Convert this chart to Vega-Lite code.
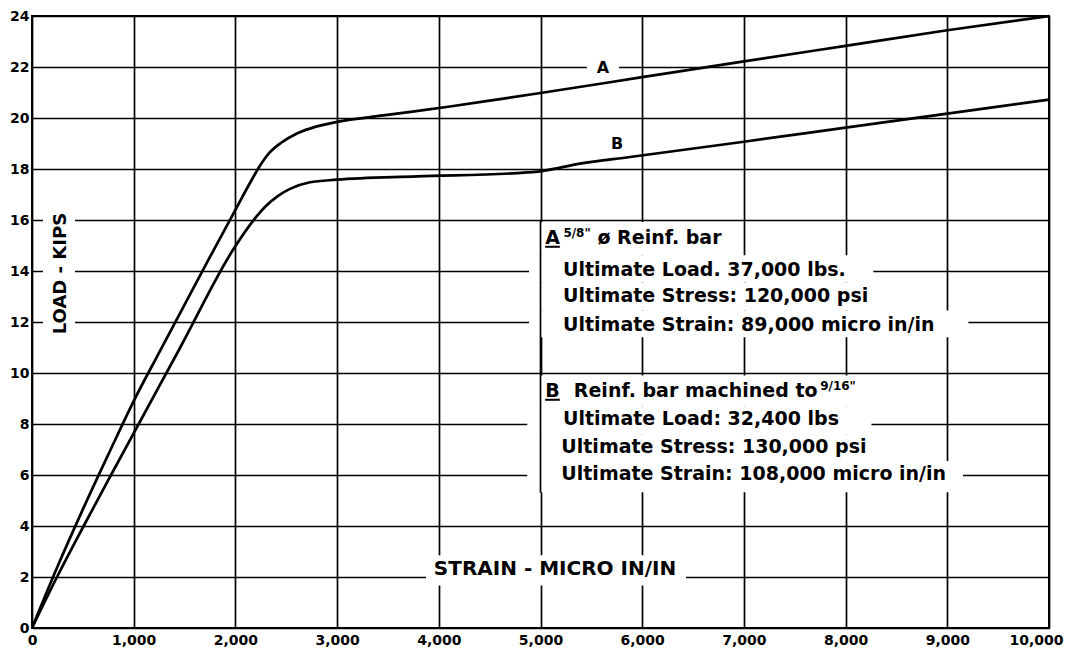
{
  "$schema": "https://vega.github.io/schema/vega-lite/v6.json",
  "width": 1017,
  "height": 612,
  "autosize": {"type": "none"},
  "padding": {"left": 32, "top": 16, "right": 16, "bottom": 20},
  "background": "white",
  "config": {
    "view": {"stroke": "black", "strokeWidth": 2},
    "font": "DejaVu Sans",
    "axis": {
      "grid": true,
      "gridColor": "black",
      "gridOpacity": 1,
      "gridWidth": 1.7,
      "domain": false,
      "ticks": false,
      "labelFont": "DejaVu Sans",
      "labelFontWeight": "bold",
      "labelFontSize": 14,
      "labelColor": "black",
      "title": null
    }
  },
  "datasets": {
    "curves": [
      {"series": "A", "strain": 0, "load": 0},
      {"series": "A", "strain": 250, "load": 2.4},
      {"series": "A", "strain": 500, "load": 4.65},
      {"series": "A", "strain": 750, "load": 6.8},
      {"series": "A", "strain": 1000, "load": 8.9},
      {"series": "A", "strain": 1250, "load": 10.8},
      {"series": "A", "strain": 1500, "load": 12.68},
      {"series": "A", "strain": 1750, "load": 14.55},
      {"series": "A", "strain": 2000, "load": 16.4},
      {"series": "A", "strain": 2150, "load": 17.5},
      {"series": "A", "strain": 2240, "load": 18.12},
      {"series": "A", "strain": 2340, "load": 18.66},
      {"series": "A", "strain": 2450, "load": 19.03},
      {"series": "A", "strain": 2600, "load": 19.38},
      {"series": "A", "strain": 2800, "load": 19.67},
      {"series": "A", "strain": 3000, "load": 19.85},
      {"series": "A", "strain": 3454, "load": 20.1},
      {"series": "A", "strain": 4110, "load": 20.45},
      {"series": "A", "strain": 4602, "load": 20.74},
      {"series": "A", "strain": 5000, "load": 20.98},
      {"series": "A", "strain": 6000, "load": 21.6},
      {"series": "A", "strain": 7000, "load": 22.22},
      {"series": "A", "strain": 8000, "load": 22.83},
      {"series": "A", "strain": 9000, "load": 23.44},
      {"series": "A", "strain": 10000, "load": 24.0},
      {"series": "B", "strain": 0, "load": 0},
      {"series": "B", "strain": 246, "load": 2},
      {"series": "B", "strain": 508, "load": 4},
      {"series": "B", "strain": 777, "load": 6},
      {"series": "B", "strain": 1049, "load": 8},
      {"series": "B", "strain": 1455, "load": 10.98},
      {"series": "B", "strain": 1980, "load": 14.85},
      {"series": "B", "strain": 2200, "load": 16.1},
      {"series": "B", "strain": 2300, "load": 16.55},
      {"series": "B", "strain": 2420, "load": 16.95},
      {"series": "B", "strain": 2537, "load": 17.22},
      {"series": "B", "strain": 2733, "load": 17.48},
      {"series": "B", "strain": 2996, "load": 17.58},
      {"series": "B", "strain": 3783, "load": 17.71},
      {"series": "B", "strain": 4766, "load": 17.84},
      {"series": "B", "strain": 5012, "load": 17.92},
      {"series": "B", "strain": 5388, "load": 18.21},
      {"series": "B", "strain": 5880, "load": 18.47},
      {"series": "B", "strain": 7000, "load": 19.07},
      {"series": "B", "strain": 8000, "load": 19.62},
      {"series": "B", "strain": 9000, "load": 20.17},
      {"series": "B", "strain": 10000, "load": 20.72}
    ],
    "boxes": [
      {"x0": 108, "x1": 423, "y0": 11.3, "y1": 16.55},
      {"x0": 3874, "x1": 6431, "y0": 1.67, "y1": 2.85},
      {"x0": 5456, "x1": 5772, "y0": 21.65, "y1": 22.35},
      {"x0": 4887, "x1": 6850, "y0": 14.62, "y1": 15.92},
      {"x0": 4887, "x1": 8272, "y0": 13.55, "y1": 14.62},
      {"x0": 4887, "x1": 8420, "y0": 12.45, "y1": 13.55},
      {"x0": 4887, "x1": 9207, "y0": 11.4, "y1": 12.45},
      {"x0": 4870, "x1": 8150, "y0": 8.7, "y1": 9.9},
      {"x0": 4870, "x1": 8254, "y0": 7.6, "y1": 8.7},
      {"x0": 4870, "x1": 8300, "y0": 6.55, "y1": 7.6},
      {"x0": 4870, "x1": 9154, "y0": 5.32, "y1": 6.55}
    ],
    "gridrules": [
      {"x": 5000, "y0": 5.3, "y1": 15.97}
    ],
    "underlines": [
      {"x0": 5046, "x1": 5190, "y": 14.95},
      {"x0": 5046, "x1": 5190, "y": 8.95}
    ],
    "notes": [
      {"role": "body", "x": 5046, "y": 15.29, "text": "A"},
      {"role": "frac", "x": 5225, "y": 15.5, "text": "5/8\""},
      {"role": "body", "x": 5560, "y": 15.29, "text": "ø Reinf. bar"},
      {"role": "body", "x": 5222, "y": 14.03, "text": "Ultimate Load. 37,000 lbs."},
      {"role": "body", "x": 5222, "y": 13.01, "text": "Ultimate Stress: 120,000 psi"},
      {"role": "body", "x": 5222, "y": 11.89, "text": "Ultimate Strain: 89,000 micro in/in"},
      {"role": "body", "x": 5046, "y": 9.29, "text": "B"},
      {"role": "body", "x": 5328, "y": 9.29, "text": "Reinf. bar machined to"},
      {"role": "frac", "x": 7750, "y": 9.5, "text": "9/16\""},
      {"role": "body", "x": 5222, "y": 8.18, "text": "Ultimate Load: 32,400 lbs"},
      {"role": "body", "x": 5205, "y": 7.09, "text": "Ultimate Stress: 130,000 psi"},
      {"role": "body", "x": 5205, "y": 6.04, "text": "Ultimate Strain: 108,000 micro in/in"},
      {"role": "curve", "x": 5614, "y": 21.95, "text": "A"},
      {"role": "curve", "x": 5754, "y": 18.98, "text": "B"},
      {"role": "xtitle", "x": 5143, "y": 2.3, "text": "STRAIN - MICRO IN/IN"},
      {"role": "ytitle", "x": 285, "y": 13.9, "text": "LOAD - KIPS"}
    ]
  },
  "layer": [
    {
      "data": {"name": "boxes"},
      "mark": {"type": "rect", "fill": "white", "strokeWidth": 0},
      "encoding": {
        "x": {"field": "x0", "type": "quantitative", "title": null,
          "scale": {"domain": [0, 10000], "nice": false, "zero": true},
          "axis": {"values": [0, 1000, 2000, 3000, 4000, 5000, 6000, 7000, 8000, 9000, 10000],
            "format": ",d", "labelPadding": 5, "labelFlush": false, "title": null,
            "labelAlign": {"condition": {"test": "datum.value == 10000", "value": "right"}, "value": "center"},
            "labelOffset": {"condition": {"test": "datum.value == 10000", "value": 14}, "value": 0}}},
        "x2": {"field": "x1"},
        "y": {"field": "y0", "type": "quantitative", "title": null,
          "scale": {"domain": [0, 24], "nice": false},
          "axis": {"values": [0, 2, 4, 6, 8, 10, 12, 14, 16, 18, 20, 22, 24], "labelPadding": 3, "title": null}},
        "y2": {"field": "y1"}
      }
    },
    {
      "data": {"name": "gridrules"},
      "mark": {"type": "rule", "color": "black", "strokeWidth": 1.7},
      "encoding": {
        "x": {"field": "x", "type": "quantitative", "title": null},
        "y": {"field": "y0", "type": "quantitative", "title": null},
        "y2": {"field": "y1"}
      }
    },
    {
      "data": {"name": "curves"},
      "mark": {"type": "line", "color": "black", "strokeWidth": 2.7, "interpolate": "monotone"},
      "encoding": {
        "x": {"field": "strain", "type": "quantitative", "title": null},
        "y": {"field": "load", "type": "quantitative", "title": null},
        "detail": {"field": "series", "type": "nominal"}
      }
    },
    {
      "data": {"name": "underlines"},
      "mark": {"type": "rule", "color": "black", "strokeWidth": 2},
      "encoding": {
        "x": {"field": "x0", "type": "quantitative", "title": null},
        "x2": {"field": "x1"},
        "y": {"field": "y", "type": "quantitative", "title": null}
      }
    },
    {
      "data": {"name": "notes"},
      "transform": [{"filter": "datum.role == 'body'"}],
      "mark": {"type": "text", "align": "left", "baseline": "middle", "font": "DejaVu Sans", "fontWeight": "bold", "fontSize": 19, "color": "black"},
      "encoding": {
        "x": {"field": "x", "type": "quantitative", "title": null},
        "y": {"field": "y", "type": "quantitative", "title": null},
        "text": {"field": "text"}
      }
    },
    {
      "data": {"name": "notes"},
      "transform": [{"filter": "datum.role == 'frac'"}],
      "mark": {"type": "text", "align": "left", "baseline": "middle", "font": "DejaVu Sans", "fontWeight": "bold", "fontSize": 12, "color": "black"},
      "encoding": {
        "x": {"field": "x", "type": "quantitative", "title": null},
        "y": {"field": "y", "type": "quantitative", "title": null},
        "text": {"field": "text"}
      }
    },
    {
      "data": {"name": "notes"},
      "transform": [{"filter": "datum.role == 'curve'"}],
      "mark": {"type": "text", "align": "center", "baseline": "middle", "font": "DejaVu Sans", "fontWeight": "bold", "fontSize": 16, "color": "black"},
      "encoding": {
        "x": {"field": "x", "type": "quantitative", "title": null},
        "y": {"field": "y", "type": "quantitative", "title": null},
        "text": {"field": "text"}
      }
    },
    {
      "data": {"name": "notes"},
      "transform": [{"filter": "datum.role == 'xtitle'"}],
      "mark": {"type": "text", "align": "center", "baseline": "middle", "font": "DejaVu Sans", "fontWeight": "bold", "fontSize": 20, "color": "black"},
      "encoding": {
        "x": {"field": "x", "type": "quantitative", "title": null},
        "y": {"field": "y", "type": "quantitative", "title": null},
        "text": {"field": "text"}
      }
    },
    {
      "data": {"name": "notes"},
      "transform": [{"filter": "datum.role == 'ytitle'"}],
      "mark": {"type": "text", "align": "center", "baseline": "middle", "angle": 270, "font": "DejaVu Sans", "fontWeight": "bold", "fontSize": 18, "color": "black"},
      "encoding": {
        "x": {"field": "x", "type": "quantitative", "title": null},
        "y": {"field": "y", "type": "quantitative", "title": null},
        "text": {"field": "text"}
      }
    }
  ]
}
